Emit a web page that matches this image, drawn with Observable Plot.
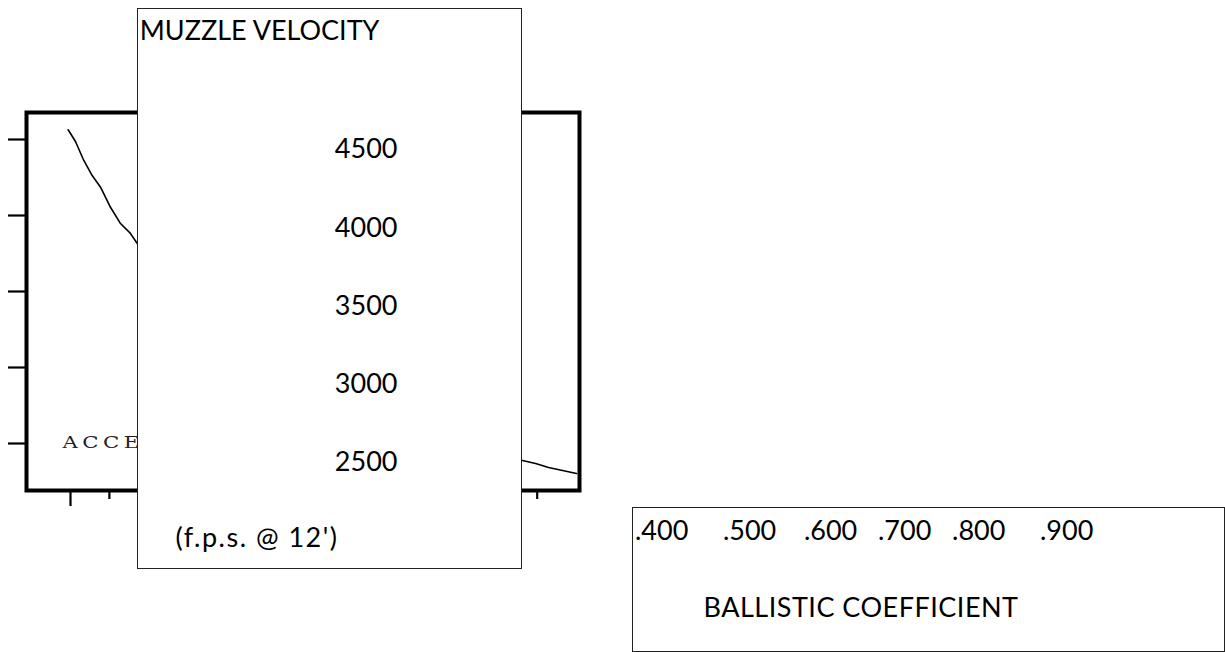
<!DOCTYPE html>
<html><head><meta charset="utf-8">
<script src="https://cdn.jsdelivr.net/npm/d3@7"></script>
<script src="https://cdn.jsdelivr.net/npm/@observablehq/plot@0.6"></script>
<style>
html,body{margin:0;padding:0;background:#fff;}
#page{position:relative;width:1225px;height:652px;overflow:hidden;background:#fff;}
#main{position:absolute;left:0;top:0;width:600px;height:520px;}
#mvbox{position:absolute;left:137px;top:8px;width:385px;height:561px;box-sizing:border-box;border:1px solid #222;background:#fff;overflow:hidden;}
#bcbox{position:absolute;left:632px;top:507px;width:593px;height:145px;box-sizing:border-box;border:1px solid #222;background:#fff;overflow:hidden;}
#mvbox svg,#bcbox svg,#main svg{position:absolute;left:0;top:0;display:block;max-width:none;}
</style></head>
<body><div id="page"><div id="main"></div><div id="mvbox"></div><div id="bcbox"></div></div>
<script>
// ---- data ----
const bc = [0.3970,0.4064,0.4171,0.4279,0.4386,0.4514,0.4643,0.4771,0.4858,
            0.55,0.60,0.65,0.70,0.75,0.80,0.85,0.90,0.95,
            0.9811,0.9979,1.0146,1.0326,1.0506];
const velocity = [4564,4487,4362,4263,4186,4054,3947,3882,3816,
                  3450,3200,3000,2850,2720,2620,2540,2470,2420,
                  2388,2368,2342,2322,2303];
const velocityTicks = [2500,3000,3500,4000,4500];
const bcMajorTicks = [0.4,0.6,0.8];
const bcMinorTicks = [0.45,0.5,0.55,0.65,0.7,0.75,0.85,0.9,0.95,1.0];
const bcLabels = [".400",".500",".600",".700",".800",".900"];
const innerLabel = "ACCELERATION";
const mvTitle = "MUZZLE VELOCITY";
const mvUnit = "(f.p.s. @ 12')";
const bcTitle = "BALLISTIC COEFFICIENT";

const curve = bc.map((b,i)=>({bc:b, v:velocity[i]}));

// ---- main chart ----
const main = Plot.plot({
  width:600, height:520,
  marginLeft:26, marginRight:21, marginTop:112, marginBottom:30,
  x:{domain:[0.34343,1.05438]},
  y:{domain:[2190.8,4677.6]},
  style:{background:"transparent", color:"#000"},
  marks:[
    Plot.axisY({ticks:velocityTicks, tickSize:18, tickFormat:()=>"", strokeWidth:2.2, label:null}),
    Plot.axisX({ticks:bcMajorTicks, tickSize:16, tickFormat:()=>"", strokeWidth:2.2, label:null}),
    Plot.axisX({ticks:bcMinorTicks, tickSize:9, tickFormat:()=>"", strokeWidth:2.2, label:null}),
    Plot.text([innerLabel], {frameAnchor:"bottom-left", dx:36, dy:-54.5, lineAnchor:"top", textAnchor:"start",
      fontFamily:"DejaVu Serif", fontSize:17, fill:"#222"}),
    Plot.line(curve, {x:"bc", y:"v", stroke:"#000", strokeWidth:1.6}),
    Plot.frame({stroke:"#000", strokeWidth:4})
  ]
});
main.querySelectorAll("text").forEach(el=>{
  if (el.textContent!==innerLabel) return;
  el.setAttribute("transform", (el.getAttribute("transform")||"") + " scale(1.25,1)");
  el.style.letterSpacing = "3.6px";
});
main.querySelectorAll('g[aria-label$="tick"]').forEach(g=>g.setAttribute("stroke-width","2.2"));
document.getElementById("main").appendChild(main);

// ---- muzzle velocity overlay ----
const mv = Plot.plot({
  width:383, height:559, margin:0,
  y:{domain:[2500,4500], range:[452.8,140.3]},
  style:{background:"transparent", color:"#000", fontFamily:"Lato"},
  marks:[
    Plot.axisY({ticks:velocityTicks, tickSize:0, tickPadding:0, dx:259, tickFormat:d=>String(d),
      label:null, fontSize:27, fontFamily:"Lato", fill:"#000"}),
    Plot.text([mvTitle], {frameAnchor:"top-left", dx:1.3, dy:11.8, lineAnchor:"top", textAnchor:"start",
      fontSize:27, fontFamily:"Lato", fill:"#000"}),
    Plot.text([mvUnit], {frameAnchor:"top-left", dx:37, dy:518.5, lineAnchor:"top", textAnchor:"start",
      fontSize:27, fontFamily:"Lato", fill:"#000"})
  ]
});
mv.querySelectorAll("text").forEach(t=>{ if (t.textContent===mvUnit) t.style.letterSpacing="1.5px"; });
document.getElementById("mvbox").appendChild(mv);

// ---- ballistic coefficient box ----
const nb = n => "\u00A0".repeat(n);
const gaps = [5,4,3,3,5];
const labelLine = bcLabels.map((l,i)=> i<gaps.length ? l+nb(gaps[i]) : l).join("");
const bcp = Plot.plot({
  width:591, height:143, margin:0,
  style:{background:"transparent", color:"#000", fontFamily:"Lato"},
  marks:[
    Plot.text([labelLine], {frameAnchor:"top-left", dx:1.5, dy:12.1, lineAnchor:"top", textAnchor:"start",
      fontSize:27, fontFamily:"Lato", fill:"#000"}),
    Plot.text([bcTitle], {frameAnchor:"top-left", dx:70, dy:89.8, lineAnchor:"top", textAnchor:"start",
      fontSize:27, fontFamily:"Lato", fill:"#000"})
  ]
});
bcp.querySelectorAll("text").forEach(t=>{ if (t.textContent===bcTitle) t.style.letterSpacing="0.5px"; });
document.getElementById("bcbox").appendChild(bcp);
</script>
</body></html>
